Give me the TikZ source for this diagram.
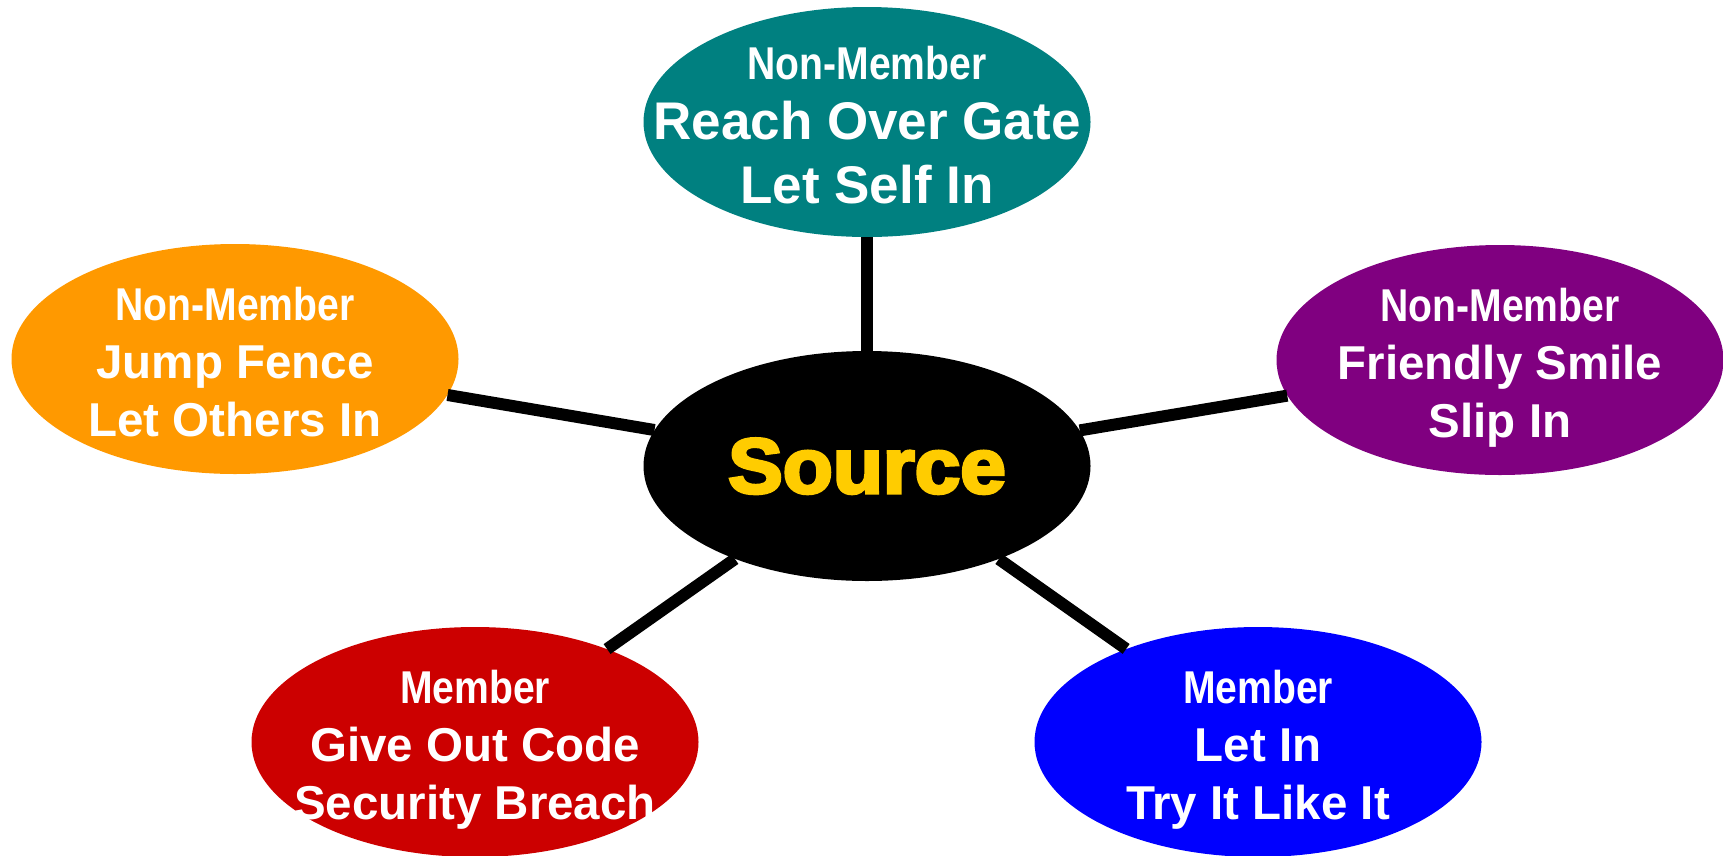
\documentclass[tikz,border=0pt]{standalone}
\usepackage{fontspec}
\usepackage{graphicx}
\usetikzlibrary{shapes.geometric}
\setmainfont{Liberation Sans}
\newfontfamily\heavyfont{Liberation Sans}[FakeBold=4]
\definecolor{cteal}{HTML}{008080}
\definecolor{corange}{HTML}{FF9900}
\definecolor{cpurple}{HTML}{800080}
\definecolor{cred}{HTML}{CC0000}
\definecolor{cblue}{HTML}{0000FF}
\definecolor{cgold}{HTML}{FFCC00}
\tikzset{
  blobshape/.style={ellipse, minimum width=447pt, minimum height=230pt, inner sep=0pt, draw=none},
  smalltxt/.style={text=white, font=\bfseries\fontsize{46}{50}\selectfont, inner sep=0pt, anchor=base},
  bigtxt/.style={text=white, font=\bfseries\fontsize{53}{60}\selectfont, inner sep=0pt, anchor=base},
  midtxt/.style={text=white, font=\bfseries\fontsize{47.5}{55}\selectfont, inner sep=0pt, anchor=base},
  linkline/.style={line width=12pt, draw=black},
}
% name, x, y, colour, line 1, line 2, line 3, text style; offsets from \ofsA, \ofsB, \ofsC
\newcommand\mkblob[8]{%
  \node[blobshape, fill=#4] (#1) at (#2,#3) {};
  \node[smalltxt] (#1-a) at (#2,#3+\ofsA) {\scalebox{0.85}[1]{#5}};
  \node[#8] (#1-b) at (#2,#3+\ofsB) {#6};
  \node[#8] (#1-c) at (#2,#3+\ofsC) {#7};
}
\begin{document}
\begin{tikzpicture}[x=1pt, y=-1pt]
\useasboundingbox[fill=white] (0,0) rectangle (1723,855);
\node[blobshape, fill=black] (src) at (867,466) {};
\def\ofsA{-43}\def\ofsB{17}\def\ofsC{81}
\mkblob{top}{867}{122}{cteal}{Non-Member}{Reach Over Gate}{Let Self In}{bigtxt}
\def\ofsA{-39}\def\ofsB{19}\def\ofsC{77}
\mkblob{left}{235}{359}{corange}{Non-Member}{Jump Fence}{Let Others In}{midtxt}
\mkblob{right}{1500}{360}{cpurple}{Non-Member}{Friendly Smile}{Slip In}{midtxt}
\mkblob{bl}{475}{742}{cred}{Member}{Give Out Code}{Security Breach}{midtxt}
\mkblob{br}{1258}{742}{cblue}{Member}{Let In}{Try It Like It}{midtxt}
\node[text=cgold, font=\heavyfont\bfseries\fontsize{78}{80}\selectfont, inner sep=0pt, anchor=base] (srctxt) at (867,493) {\scalebox{1.05}[1]{Source}};
\draw[linkline] (src) -- (top);
\draw[linkline] (src) -- (left);
\draw[linkline] (src) -- (right);
\draw[linkline] (src) -- (bl);
\draw[linkline] (src) -- (br);
\end{tikzpicture}
\end{document}
